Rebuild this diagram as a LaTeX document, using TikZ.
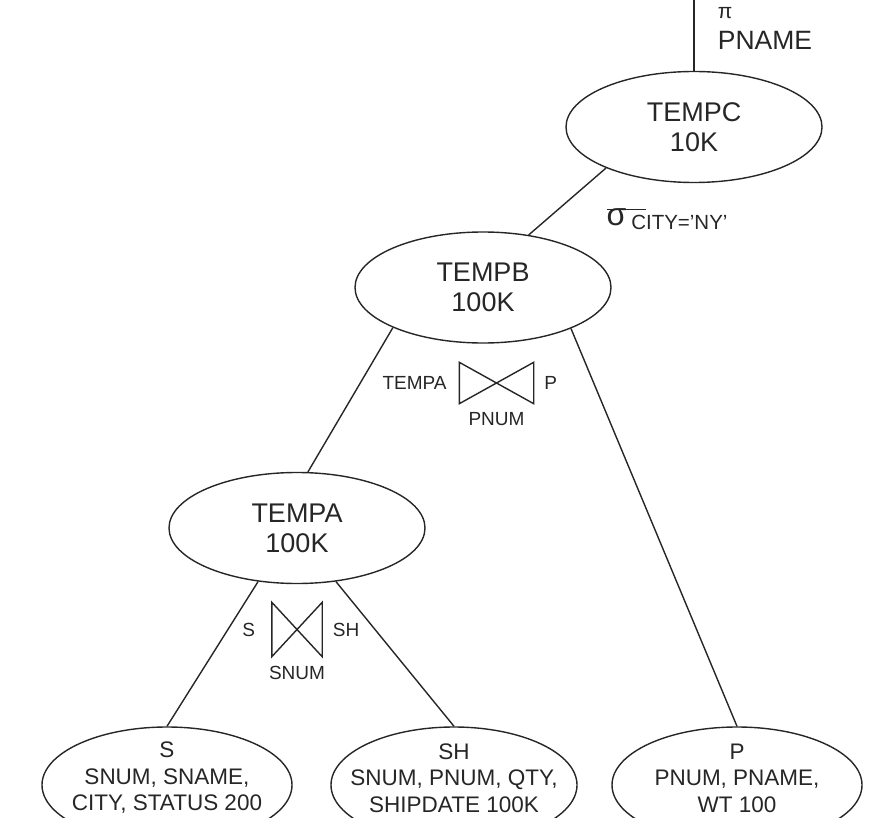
\documentclass[tikz,border=0pt]{standalone}
\usepackage{fontspec}
\setmainfont{Liberation Sans}
\usetikzlibrary{shapes, positioning}
\tikzstyle{relation} = [ellipse, draw, minimum width=256pt, minimum height=111pt, align=center, font=\fontsize{27}{30}\selectfont, on grid]
\tikzstyle{base} = [ellipse, draw, minimum width=250pt, minimum height=116pt, on grid]
\tikzstyle{basetext} = [align=center, font=\fontsize{22.5}{26.5}\selectfont, yshift=7pt]
\tikzstyle{op} = [inner sep=0pt, font=\fontsize{19}{22}\selectfont]
\tikzstyle{joinbox} = [inner sep=0pt, on grid]
\tikzstyle{link} = [draw]

\begin{document}
\begin{tikzpicture}[x=1pt, y=1pt, line width=1.4pt, color=black!85]
    \useasboundingbox (0,0) rectangle (869,-818);

    % Nodes
    \node [relation] (tempc) at (694,-127) {TEMPC\\10K};
    \node [relation, below left=160.5pt and 211pt of tempc] (tempb) {TEMPB\\100K};
    \node [relation, below left=240.5pt and 186pt of tempb] (tempa) {TEMPA\\100K};
    \node [base, below left=257pt and 130pt of tempa, label={[basetext]center:{S\\SNUM, SNAME,\\CITY, STATUS 200}}] (s) {};
    \node [base, minimum width=246pt, below right=257pt and 157pt of tempa, label={[basetext]center:{SH\\SNUM, PNUM, QTY,\\SHIPDATE 100K}}] (sh) {};
    \node [base, right=283pt of sh, label={[basetext]center:{P\\PNUM, PNAME,\\WT 100}}] (p) {};
    \coordinate [above=72pt of tempc.north] (root);

    % Operators
    \node [op, on grid, align=left, font=\fontsize{26.5}{31}\selectfont, above right=99pt and 71pt of tempc] (proj) {{\fontsize{21}{21}\selectfont π}\\PNAME};
    \node [op, on grid, font=\fontsize{20.5}{20.5}\selectfont, below left=92pt and 27pt of tempc] (sel) {\rlap{\rule[15.5pt]{39pt}{1.2pt}}{\fontsize{32}{32}\selectfont σ}\hspace{5pt}\raisebox{-4pt}{CITY=’NY’}};
    \node [joinbox, minimum width=73pt, minimum height=40pt, below right=95.5pt and 13.5pt of tempb] (join1) {};
    \node [op, left=12pt of join1] (join1l) {TEMPA};
    \node [op, right=10pt of join1] (join1r) {P};
    \node [op, below=8pt of join1] (join1a) {PNUM};
    \node [joinbox, minimum width=49pt, minimum height=53pt, below=101.5pt of tempa] (join2) {};
    \node [op, left=16pt of join2] (join2l) {S};
    \node [op, right=10pt of join2] (join2r) {SH};
    \node [op, below=9pt of join2] (join2a) {SNUM};
    \draw (join1.north west) -- (join1.south west) -- (join1.north east) -- (join1.south east) -- cycle;
    \draw (join2.north west) -- (join2.south west) -- (join2.north east) -- (join2.south east) -- cycle;

    % Lines
    \path [link] (root) -- (tempc.north);
    \path [link] (tempc.205) -- (tempb.49);
    \path [link] (tempb.204) -- (tempa.79);
    \path [link] (tempb.335) -- (p.north);
    \path [link] (tempa.234) -- (s.north);
    \path [link] (tempa.306) -- (sh.north);
\end{tikzpicture}
\end{document}
